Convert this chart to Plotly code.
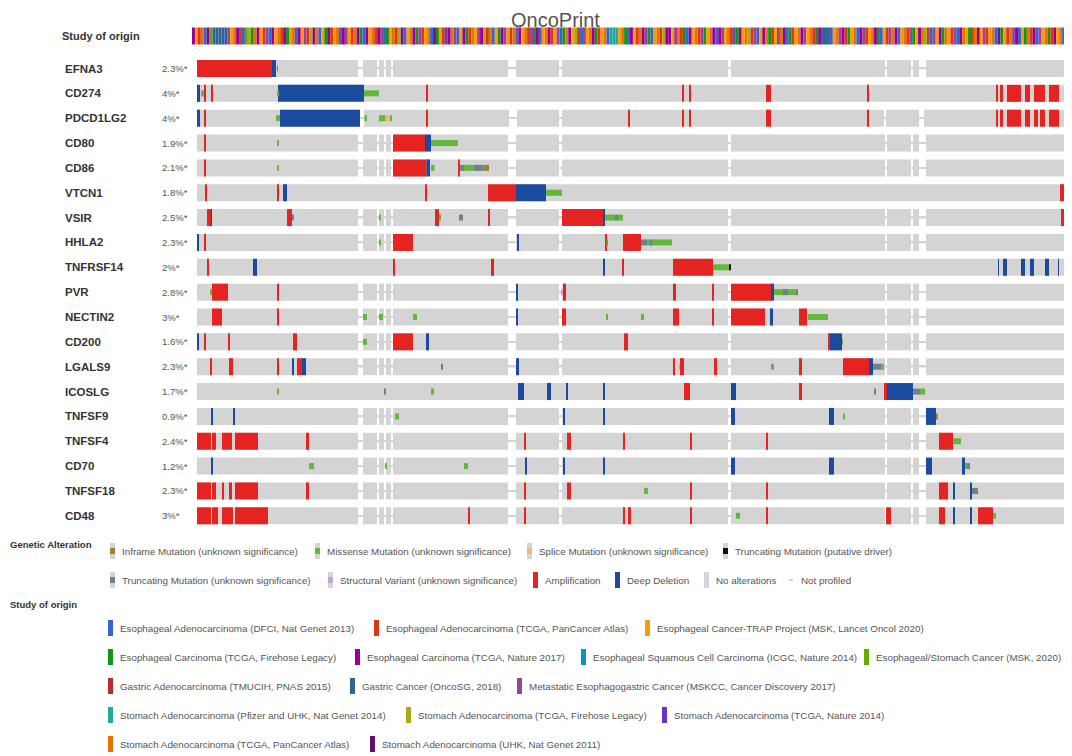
import plotly.graph_objects as go

# ---------------------------------------------------------------- data
genes = ["EFNA3", "CD274", "PDCD1LG2", "CD80", "CD86", "VTCN1", "VSIR", "HHLA2",
         "TNFRSF14", "PVR", "NECTIN2", "CD200", "LGALS9", "ICOSLG", "TNFSF9",
         "TNFSF4", "CD70", "TNFSF18", "CD48"]
altered_pct = ["2.3%*", "4%*", "4%*", "1.9%*", "2.1%*", "1.8%*", "2.5%*", "2.3%*",
               "2%*", "2.8%*", "3%*", "1.6%*", "2.3%*", "1.7%*", "0.9%*",
               "2.4%*", "1.2%*", "2.3%*", "3%*"]

# which samples each gene was profiled in (sample index ranges)
profile_kind = ["std", "full", "pd", "std", "std", "full", "std", "std", "full", "std",
                "std", "std", "std", "full", "std", "std", "std", "std", "std"]
segments_std = [(0, 161), (166, 180), (182, 187), (189, 194), (196, 311), (319, 362),
                (365, 531), (534, 688), (690, 714), (716, 722), (729, 870)]
segments_pd = [(0, 163), (167, 312), (320, 362), (365, 687), (689, 722), (727, 870)]
segments_full = [(0, 870)]
n_samples = 870

# alterations per gene: (first sample, last sample, type)
EFNA3_alt = [(0, 75, "amp"), (75, 79, "del"), (80, 81, "trunc")]
CD274_alt = [(0, 3, "del"), (4, 7, "mis"), (7.5, 9, "amp"), (14, 15.5, "amp"), (80, 81.5, "mis"),
             (81, 167, "del"), (167, 182, "mis"), (229, 231, "amp"), (485, 487, "amp"),
             (492, 493.5, "amp"), (569, 574, "amp"), (670, 672, "amp"), (799, 801, "amp"),
             (803, 806, "amp"), (810, 824, "amp"), (828, 833, "amp"), (837, 848, "amp"),
             (852, 862, "amp")]
PDCD1LG2_alt = [(0, 3, "del"), (7.5, 9, "amp"), (79, 80, "mis"), (80, 83, "mis"), (83, 163, "del"),
                (167.5, 170, "mis"), (182, 188.5, "mis"), (188.5, 193, "spl"), (193, 195, "mis"),
                (229, 231, "amp"), (431, 432.5, "amp"), (485, 487, "amp"), (492, 493.5, "amp"),
                (569, 574, "amp"), (670, 672, "amp"), (799, 801, "amp"), (803, 806, "amp"),
                (810, 824, "amp"), (828, 833, "amp"), (837, 841, "amp"), (843, 848, "amp"),
                (852, 862, "amp")]
CD80_alt = [(7.5, 9, "amp"), (80, 81.5, "mis"), (196, 228, "amp"), (228, 234, "del"),
            (234, 261, "mis")]
CD86_alt = [(7.5, 9, "amp"), (80, 81.5, "mis"), (196, 229.5, "amp"), (229.5, 233, "del"),
            (234, 237.5, "mis"), (261, 262.5, "amp"), (262.5, 267, "trunc"), (267, 277, "mis"),
            (277, 287.5, "trunc"), (287.5, 292, "inf")]
VTCN1_alt = [(8, 9.5, "amp"), (80.5, 82, "amp"), (86, 90, "del"), (228.5, 230, "amp"),
             (291, 319, "amp"), (319, 349, "del"), (349, 365, "mis"), (863, 871, "amp")]
VSIR_alt = [(10, 14, "amp"), (14, 15, "del"), (90, 95, "amp"), (95, 97, "trunc"),
            (182, 183.5, "mis"), (238, 242, "amp"), (242, 244, "mis"), (262, 266, "trunc"),
            (291, 293, "amp"), (365, 406, "amp"), (406, 408, "del"), (408, 418, "mis"),
            (418, 421, "trunc"), (421, 426, "mis"), (864, 868, "amp")]
HHLA2_alt = [(0, 1.5, "del"), (7, 9, "amp"), (182.5, 184, "mis"), (196, 216, "amp"),
             (320, 321.5, "del"), (408, 409.5, "amp"), (409.5, 410.5, "inf"), (426, 444, "amp"),
             (444, 450, "trunc"), (450, 475, "mis"), (453, 454.5, "trunc")]
TNFRSF14_alt = [(10, 12, "amp"), (56, 60, "del"), (196, 198, "amp"), (294, 297, "amp"),
                (406, 408, "del"), (425.5, 427, "amp"), (476, 516, "amp"), (516, 532, "mis"),
                (532, 534, "drv"), (801, 802, "del"), (806, 810, "del"), (824, 828, "del"),
                (833, 837, "del"), (848, 852, "del"), (861, 862, "del")]
PVR_alt = [(13, 15, "mis"), (15, 31, "amp"), (80.5, 82, "amp"), (319, 321, "del"),
           (364.5, 365.5, "sv"), (366, 369, "amp"), (476, 479, "amp"), (515.5, 517, "amp"),
           (534, 574, "amp"), (574, 577, "del"), (577, 586, "mis"), (586, 591, "trunc"),
           (591, 599, "mis"), (599, 601, "trunc")]
NECTIN2_alt = [(15, 25, "amp"), (80.5, 82, "amp"), (166, 170, "mis"), (182, 186, "mis"),
               (216, 220, "mis"), (319, 321, "del"), (365, 369, "amp"), (409.5, 410.5, "mis"),
               (444, 447, "mis"), (476, 482, "amp"), (515.5, 517, "amp"), (534, 568, "amp"),
               (573, 576, "del"), (602, 610, "amp"), (610, 611, "spl"), (611, 631, "mis")]
CD200_alt = [(0, 1.5, "del"), (7, 9, "amp"), (31, 32.5, "amp"), (96, 100, "amp"),
             (166, 170, "mis"), (196, 216, "amp"), (229, 232, "del"), (427, 431, "amp"),
             (631, 633, "amp"), (633, 645, "del"), (645, 646, "mis")]
LGALS9_alt = [(13, 15, "amp"), (32, 36, "amp"), (80.5, 82, "amp"), (95, 96.5, "del"),
              (100, 105, "amp"), (105, 109, "del"), (244, 246, "trunc"), (319, 322, "del"),
              (476, 478, "amp"), (482, 483, "sv"), (483, 487, "amp"), (517, 520, "amp"),
              (574, 577, "mis"), (602, 605, "amp"), (646, 672, "amp"), (672, 676, "del"),
              (676, 684, "trunc"), (684, 687, "mis")]
ICOSLG_alt = [(80, 81.5, "mis"), (187, 188.5, "trunc"), (234, 237, "mis"), (321, 327, "del"),
              (350, 354, "del"), (369, 370.5, "del"), (406, 408, "del"), (487, 493, "amp"),
              (534, 539, "del"), (602, 605, "amp"), (677, 678.5, "trunc"), (687, 690, "amp"),
              (690, 716, "del"), (716, 723, "trunc"), (723, 728, "mis")]
TNFSF9_alt = [(14, 15.5, "del"), (36, 37.5, "del"), (198, 202, "mis"), (366, 367.5, "del"),
              (406, 408, "del"), (534, 538, "del"), (632, 637, "del"), (646, 647.5, "mis"),
              (729, 739, "del"), (739, 741, "inf")]
TNFSF4_alt = [(0, 14, "amp"), (15, 19, "amp"), (25, 35, "amp"), (38, 61, "amp"),
              (109, 112, "amp"), (327, 328.5, "amp"), (370, 374, "amp"), (426, 427.5, "amp"),
              (493, 494.5, "amp"), (569, 570.5, "amp"), (742, 756, "amp"), (756, 764, "mis")]
CD70_alt = [(14, 15.5, "del"), (112, 117, "mis"), (188, 189.5, "mis"), (267, 271, "mis"),
            (328, 329.5, "del"), (366, 367.5, "del"), (406, 408, "del"), (534, 538, "del"),
            (632, 637, "del"), (729, 735, "del"), (765, 768, "del"), (768, 770, "mis"),
            (770, 773, "trunc")]
TNFSF18_alt = [(0, 14, "amp"), (15, 19, "amp"), (25, 26.5, "amp"), (32, 35, "amp"),
               (38, 61, "amp"), (109, 112, "amp"), (327, 328.5, "amp"), (370, 374, "amp"),
               (447, 451, "mis"), (493, 494.5, "amp"), (569, 570.5, "amp"), (742, 751, "amp"),
               (756, 757.5, "del"), (773, 775, "del"), (775, 781, "trunc")]
CD48_alt = [(0, 14, "amp"), (15, 21, "amp"), (25, 36, "amp"), (38, 71, "amp"),
            (271, 273, "amp"), (327, 328.5, "amp"), (426, 427.5, "amp"), (431, 434, "amp"),
            (493, 494.5, "amp"), (539, 543, "mis"), (569, 570.5, "amp"), (689, 694, "amp"),
            (742, 748, "amp"), (756, 757.5, "del"), (773, 774.5, "del"), (781, 796, "amp"),
            (796, 799, "mis")]

alterations = [EFNA3_alt, CD274_alt, PDCD1LG2_alt, CD80_alt, CD86_alt, VTCN1_alt, VSIR_alt,
               HHLA2_alt, TNFRSF14_alt, PVR_alt, NECTIN2_alt, CD200_alt, LGALS9_alt,
               ICOSLG_alt, TNFSF9_alt, TNFSF4_alt, CD70_alt, TNFSF18_alt, CD48_alt]

# study of origin for each group of samples (one letter per stripe)
study_codes = (
    "ecbnaegiiiiijcnebagldnecbjaecn"
    "bedcnaecjblenacdebcnaejcbnedae"
    "cnbejadcnbleacnedjbcnaedcbmenj"
    "acedbncjelbnacdejcbnaecnbjdeac"
    "nebcjadneclbajcnedbcnakkkcndae"
    "cbnejdacnbleecjnbdaecnbjdcnea"
    "ejcnbadecnlbjacendbcjneadbcnej"
    "cnbdeiiiacnjebdcnaejbcnedacbjn"
    "eacnbjdcenlbajcedncbjaencdbnec"
    "jbcnaedcbnjeacdnbeajcndbecnaj"
)
study_keys = list("abcdefghijklmno")
study_names = [
    "Esophageal Adenocarcinoma (DFCI, Nat Genet 2013)",
    "Esophageal Adenocarcinoma (TCGA, PanCancer Atlas)",
    "Esophageal Cancer-TRAP Project (MSK, Lancet Oncol 2020)",
    "Esophageal Carcinoma (TCGA, Firehose Legacy)",
    "Esophageal Carcinoma (TCGA, Nature 2017)",
    "Esophageal Squamous Cell Carcinoma (ICGC, Nature 2014)",
    "Esophageal/Stomach Cancer (MSK, 2020)",
    "Gastric Adenocarcinoma (TMUCIH, PNAS 2015)",
    "Gastric Cancer (OncoSG, 2018)",
    "Metastatic Esophagogastric Cancer (MSKCC, Cancer Discovery 2017)",
    "Stomach Adenocarcinoma (Pfizer and UHK, Nat Genet 2014)",
    "Stomach Adenocarcinoma (TCGA, Firehose Legacy)",
    "Stomach Adenocarcinoma (TCGA, Nature 2014)",
    "Stomach Adenocarcinoma (TCGA, PanCancer Atlas)",
    "Stomach Adenocarcinoma (UHK, Nat Genet 2011)",
]

alt_names = ["inf", "mis", "spl", "drv", "trunc", "sv", "amp", "del", "none", "np"]
alt_labels = ["Inframe Mutation (unknown significance)", "Missense Mutation (unknown significance)",
              "Splice Mutation (unknown significance)", "Truncating Mutation (putative driver)",
              "Truncating Mutation (unknown significance)", "Structural Variant (unknown significance)",
              "Amplification", "Deep Deletion", "No alterations", "Not profiled"]

# ---------------------------------------------------------------- styles
PAGE_W, PAGE_H = 1072, 756
OFF = 8                                   # browser body margin
W, H = PAGE_W - OFF, PAGE_H - OFF
FONT = "Liberation Sans, Arial, Helvetica, sans-serif"
GRAY = "#d4d4d4"
LEG_SIZE = 9.8
alt_color = {"amp": "#e52421", "del": "#1b4b9e", "mis": "#62b83a", "trunc": "#708090",
             "drv": "#111111", "inf": "#a68028", "spl": "#f0b87b", "sv": "#c8a0d8"}
full_height = {"amp", "del"}
study_color = ["#3366cc", "#dc3912", "#ff9900", "#109618", "#990099", "#0099c6", "#66aa00",
               "#b82e2e", "#316395", "#994499", "#22aa99", "#aaaa11", "#6633cc", "#e67300",
               "#651067"]
row_px0, row_step = 68.5 - OFF, 24.85     # figure pixel of first row centre, row pitch
cell_h = 17 / row_step
mut_h = 6 / row_step
strip_y = (36 - OFF - row_px0) / row_step
x_left_px = 197 - OFF                     # figure pixel of sample 0 (1 sample ~ 1 px)

def px(x):
    return (x - OFF) / W

def py(y):
    return 1 - (y - OFF) / H

fig = go.Figure()

# not-profiled connector line + profiled background
seg_lookup = {"std": segments_std, "pd": segments_pd, "full": segments_full}
fig.add_trace(go.Bar(orientation="h", y=list(range(len(genes))), x=[n_samples] * len(genes),
                     base=[0] * len(genes), width=1.6 / row_step,
                     marker=dict(color=GRAY, line=dict(width=0)), hoverinfo="skip"))
by, bb, bx = [], [], []
for i, kind in enumerate(profile_kind):
    for s, e in seg_lookup[kind]:
        by.append(i); bb.append(s); bx.append(e - s)
fig.add_trace(go.Bar(orientation="h", y=by, base=bb, x=bx, width=cell_h,
                     marker=dict(color=GRAY, line=dict(width=0)), hoverinfo="skip"))

# alterations: copy-number first, mutations on top
for group in (["amp", "del"], ["mis", "trunc", "drv", "inf", "spl", "sv"]):
    for t in group:
        ay, ab, ax = [], [], []
        for i, alts in enumerate(alterations):
            for s, e, kind in alts:
                if kind == t:
                    ay.append(i); ab.append(s); ax.append(e - s)
        if ay:
            fig.add_trace(go.Bar(orientation="h", y=ay, base=ab, x=ax,
                                 width=cell_h if t in full_height else mut_h,
                                 marker=dict(color=alt_color[t], line=dict(width=0)),
                                 hoverinfo="skip"))

# study of origin strip
strip_span = n_samples + 6
sw = strip_span / len(study_codes)
fig.add_trace(go.Bar(orientation="h", y=[strip_y] * len(study_codes),
                     base=[-5 + k * sw for k in range(len(study_codes))],
                     x=[sw] * len(study_codes), width=cell_h,
                     marker=dict(color=[study_color[study_keys.index(c)] for c in study_codes],
                                 line=dict(width=0)),
                     hoverinfo="skip"))

ann = []
ann.append(dict(text="OncoPrint", x=px(555), y=1, xref="paper", yref="paper",
                xanchor="center", yanchor="top", borderpad=0, showarrow=False,
                font=dict(family=FONT, size=20, color="#555555")))
ann.append(dict(text="<b>Study of origin</b>", x=px(60), y=strip_y, xref="paper", yref="y",
                xanchor="left", showarrow=False, font=dict(family=FONT, size=11, color="#333333")))
for i, (g, p) in enumerate(zip(genes, altered_pct)):
    ann.append(dict(text="<b>%s</b>" % g, x=px(63), y=i, xref="paper", yref="y",
                    xanchor="left", showarrow=False,
                    font=dict(family=FONT, size=11.5, color="#333333")))
    ann.append(dict(text=p, x=px(160), y=i,
                    xref="paper", yref="y", xanchor="left", showarrow=False,
                    font=dict(family=FONT, size=9.5, color="#555555")))

# ---------------------------------------------------------------- legends
shapes = []

def rect(x0, x1, y0, y1, color):
    shapes.append(dict(type="rect", xref="paper", yref="paper", x0=px(x0), x1=px(x1),
                       y0=py(y1), y1=py(y0), fillcolor=color, line=dict(width=0),
                       layer="above"))

def label(text, x, y, size=LEG_SIZE, color="#555555"):
    ann.append(dict(text=text, x=px(x), y=py(y), xref="paper", yref="paper",
                    xanchor="left", yanchor="middle", showarrow=False,
                    font=dict(family=FONT, size=size, color=color)))

label("<b>Genetic Alteration</b>", 8, 544, 9.5, "#333333")
label("<b>Study of origin</b>", 8, 604, 9.5, "#333333")

alt_legend_pos = [(110, 551), (315, 551), (527, 551), (723, 551),
                  (110, 580), (328, 580), (533, 580), (615, 580), (704, 580), (789, 580)]
for key, text, (x, y) in zip(alt_names, alt_labels, alt_legend_pos):
    if key == "np":
        rect(x, x + 4, y - 1, y + 1, GRAY)
    else:
        rect(x, x + 5, y - 8, y + 8, GRAY)
        if key in full_height:
            rect(x, x + 5, y - 8, y + 8, alt_color[key])
        elif key != "none":
            rect(x, x + 5, y - 3, y + 3, alt_color[key])
    label(text, x + 10, y)

study_legend_pos = [(108, 628), (374, 628), (645, 628),
                    (108, 657), (355, 657), (581, 657), (864, 657),
                    (108, 686), (350, 686), (517, 686),
                    (108, 715), (406, 715), (662, 715),
                    (108, 744), (370, 744)]
for name, col, (x, y) in zip(study_names, study_color, study_legend_pos):
    rect(x, x + 5, y - 8, y + 8, col)
    label(name, x + 10, y)

fig.update_layout(
    width=W, height=H, margin=dict(l=0, r=0, t=0, b=0),
    paper_bgcolor="white", plot_bgcolor="white",
    barmode="overlay", showlegend=False,
    xaxis=dict(range=[-x_left_px, W - x_left_px], visible=False, fixedrange=True),
    yaxis=dict(range=[(H - row_px0) / row_step, -row_px0 / row_step], visible=False,
               fixedrange=True),
    annotations=ann, shapes=shapes,
)

fig.write_html("out.html", config={"displayModeBar": False})
